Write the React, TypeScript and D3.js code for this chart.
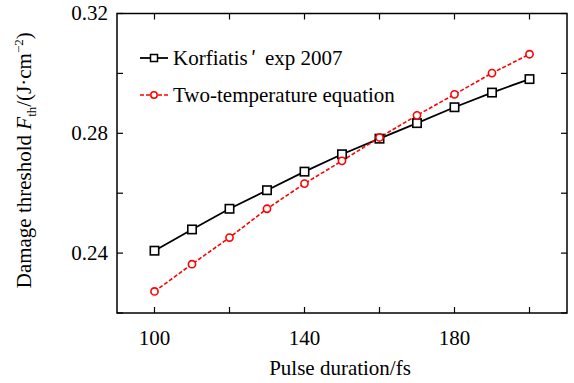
import React from "react";
import * as d3 from "d3";

const pulse = [100, 110, 120, 130, 140, 150, 160, 170, 180, 190, 200];
const korfiatis = [0.2408, 0.2479, 0.2548, 0.261, 0.2672, 0.273, 0.2782, 0.2834, 0.2887, 0.2936, 0.2981];
const twoTemp = [0.2272, 0.2363, 0.2452, 0.2548, 0.2632, 0.2708, 0.2786, 0.286, 0.293, 0.3001, 0.3064];
const xTicks = [100, 120, 140, 160, 180, 200];
const xLabels = [100, 140, 180];
const yTicks = [0.22, 0.24, 0.26, 0.28, 0.3, 0.32];
const yLabels = [0.24, 0.28, 0.32];
const seriesNames = ["Korfiatis", "Two-temperature equation"];

const W = 574, H = 383;
const L = 117, R = 567, T = 13.5, B = 313;
const FONT = "'Liberation Serif', 'Times New Roman', serif";
const FS = 21;

export default function App() {
  const x = d3.scaleLinear().domain([90, 210]).range([L, R]);
  const y = d3.scaleLinear().domain([0.22, 0.32]).range([B, T]);
  const line = d3.line<[number, number]>().x(d => x(d[0])).y(d => y(d[1]));
  const kPts = pulse.map((p, i) => [p, korfiatis[i]] as [number, number]);
  const tPts = pulse.map((p, i) => [p, twoTemp[i]] as [number, number]);
  const tl = 6;
  return (
    <svg width={W} height={H} style={{ position: "absolute", left: 0, top: 0, background: "#fff" }} fontFamily={FONT}>
      <rect x={0} y={0} width={W} height={H} fill="#fff" />
      {xTicks.map(t => (
        <g key={"xt" + t} stroke="#000" strokeWidth={1.2}>
          <line x1={x(t)} x2={x(t)} y1={B} y2={B - tl} />
          <line x1={x(t)} x2={x(t)} y1={T} y2={T + tl} />
        </g>
      ))}
      {yTicks.map(t => (
        <g key={"yt" + t} stroke="#000" strokeWidth={1.2}>
          <line x1={L} x2={L + tl} y1={y(t)} y2={y(t)} />
          <line x1={R} x2={R - tl} y1={y(t)} y2={y(t)} />
        </g>
      ))}
      <rect x={L} y={T} width={R - L} height={B - T} fill="none" stroke="#000" strokeWidth={1.5} />
      {xLabels.map(t => (
        <text key={"xl" + t} x={x(t)} y={345} fontSize={FS} textAnchor="middle">{t}</text>
      ))}
      {yLabels.map(t => (
        <text key={"yl" + t} x={108} y={y(t)} dy="0.33em" fontSize={FS} textAnchor="end">{t.toFixed(2)}</text>
      ))}
      <text x={(L + R) / 2 - 2} y={375} fontSize={FS} textAnchor="middle">Pulse duration/fs</text>
      <text transform={`translate(31,${(T + B) / 2 - 3}) rotate(-90)`} fontSize={FS} textAnchor="middle">
        Damage threshold <tspan fontStyle="italic">F</tspan><tspan fontSize={13} dy={5}>th</tspan>
        <tspan dy={-5}>/(J·cm</tspan><tspan fontSize={13} dy={-8}>−2</tspan><tspan dy={8}>)</tspan>
      </text>
      <path d={line(kPts) || ""} fill="none" stroke="#000" strokeWidth={1.8} />
      <path d={line(tPts) || ""} fill="none" stroke="#f00" strokeWidth={1.6} strokeDasharray="4,2" />
      {kPts.map((d, i) => (
        <rect key={"k" + i} x={x(d[0]) - 4.2} y={y(d[1]) - 4.2} width={8.4} height={8.4} fill="#fff" stroke="#000" strokeWidth={1.6} />
      ))}
      {tPts.map((d, i) => (
        <circle key={"t" + i} cx={x(d[0])} cy={y(d[1])} r={3.6} fill="#fff" stroke="#f00" strokeWidth={1.6} />
      ))}
      <line x1={140} x2={168} y1={58} y2={58} stroke="#000" strokeWidth={1.8} />
      <rect x={154 - 3.5} y={58 - 3.5} width={7} height={7} fill="#fff" stroke="#000" strokeWidth={1.5} />
      <text x={173} y={58} dy="0.33em" fontSize={FS}>
        {seriesNames[0]}<tspan fontFamily="'Noto Sans CJK SC'" fontSize={19} dx={3}>′</tspan><tspan dx={9}>exp 2007</tspan>
      </text>
      <line x1={140} x2={168} y1={95} y2={95} stroke="#f00" strokeWidth={1.6} strokeDasharray="4,2" />
      <circle cx={154} cy={95} r={3.2} fill="#fff" stroke="#f00" strokeWidth={1.5} />
      <text x={173} y={95} dy="0.33em" fontSize={FS}>{seriesNames[1]}</text>
    </svg>
  );
}
